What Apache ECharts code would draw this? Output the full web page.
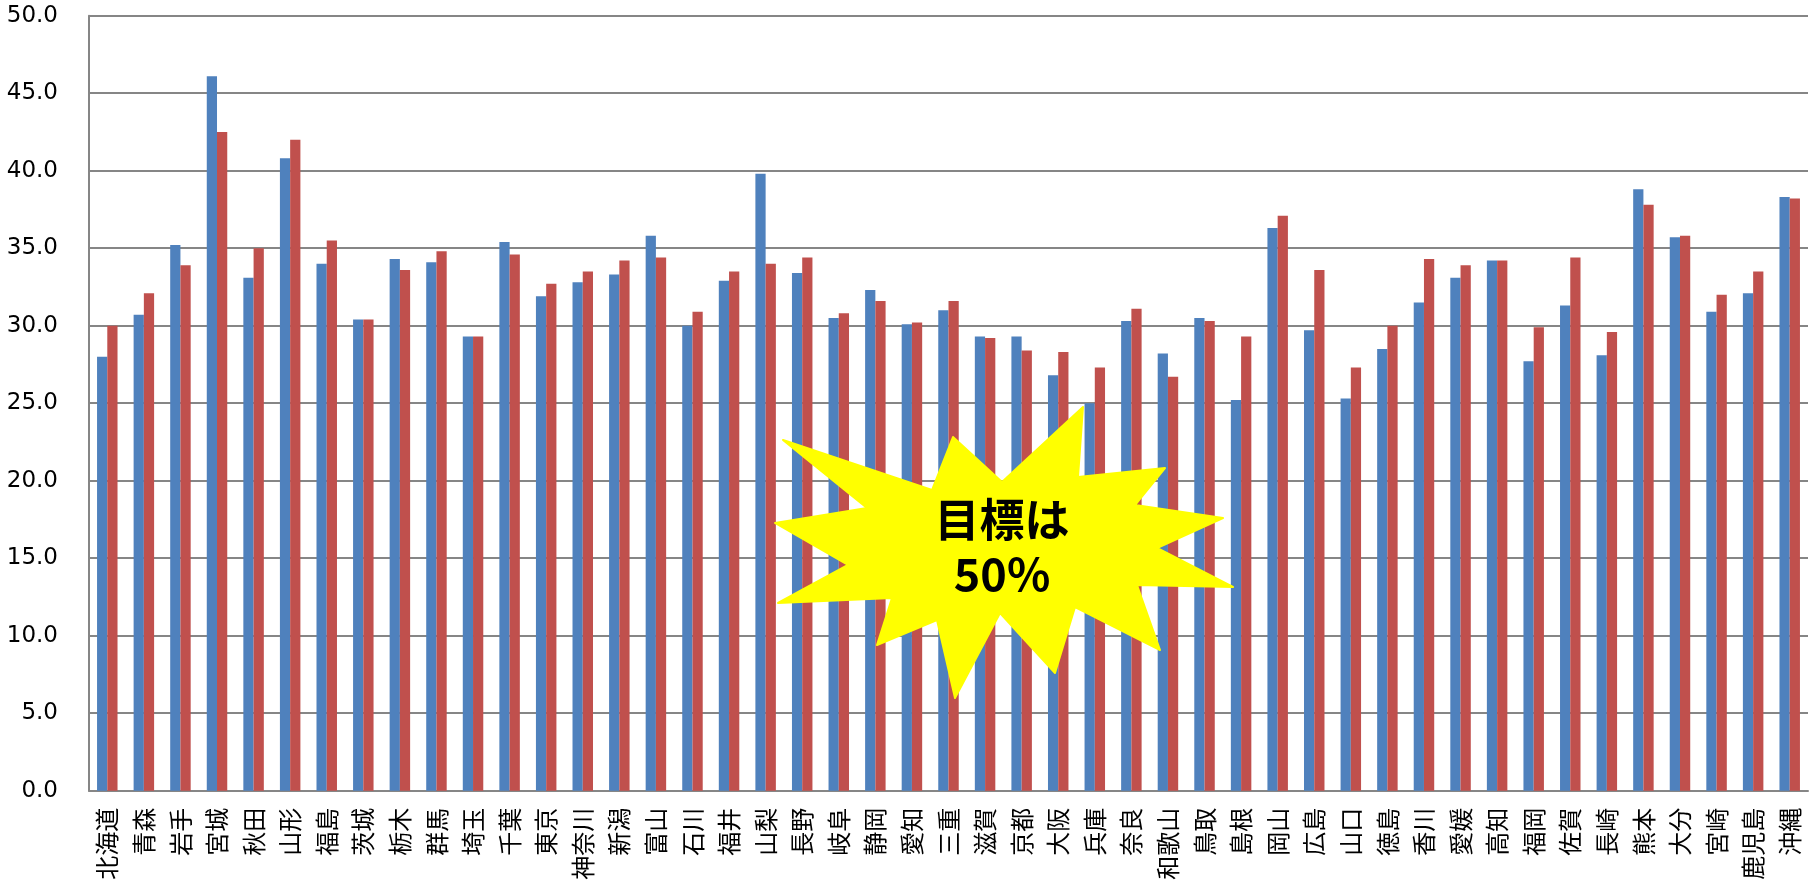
<!DOCTYPE html>
<html>
<head>
<meta charset="utf-8">
<script src="https://cdn.jsdelivr.net/npm/echarts@6/dist/echarts.min.js"></script>
<style>
html,body{margin:0;padding:0;background:#fff;}
#chart{width:1818px;height:885px;}
</style>
</head>
<body>
<div id="chart"></div>
<script>
const prefectures = ["北海道","青森","岩手","宮城","秋田","山形","福島","茨城","栃木","群馬","埼玉","千葉","東京","神奈川","新潟","富山","石川","福井","山梨","長野","岐阜","静岡","愛知","三重","滋賀","京都","大阪","兵庫","奈良","和歌山","鳥取","島根","岡山","広島","山口","徳島","香川","愛媛","高知","福岡","佐賀","長崎","熊本","大分","宮崎","鹿児島","沖縄"];
const seriesBlue = [28.0,30.7,35.2,46.1,33.1,40.8,34.0,30.4,34.3,34.1,29.3,35.4,31.9,32.8,33.3,35.8,30.0,32.9,39.8,33.4,30.5,32.3,30.1,31.0,29.3,29.3,26.8,25.0,30.3,28.2,30.5,25.2,36.3,29.7,25.3,28.5,31.5,33.1,34.2,27.7,31.3,28.1,38.8,35.7,30.9,32.1,38.3];
const seriesRed  = [30.0,32.1,33.9,42.5,35.0,42.0,35.5,30.4,33.6,34.8,29.3,34.6,32.7,33.5,34.2,34.4,30.9,33.5,34.0,34.4,30.8,31.6,30.2,31.6,29.2,28.4,28.3,27.3,31.1,26.7,30.3,29.3,37.1,33.6,27.3,30.0,34.3,33.9,34.2,29.9,34.4,29.6,37.8,35.8,32.0,33.5,38.2];
const yTicks = {min:0, max:50, interval:5};
const calloutText = "目標は\n50%";

const starPoints = [
  [783,440],[932,490],[953,437],[1002,482],[1083,407],[1078,477],
  [1165,468],[1135,505],[1223,518],[1157,548],[1233,587],[1137,585],
  [1160,650],[1075,607],[1055,673],[1000,613],[955,698],[937,620],
  [877,645],[892,598],[778,603],[848,565],[775,523],[867,508]
];

const chart = echarts.init(document.getElementById('chart'), null, {renderer:'canvas'});
chart.setOption({
  animation:false,
  backgroundColor:'#ffffff',
  grid:{left:89,right:10,top:15.7,bottom:94.3,containLabel:false},
  xAxis:{
    type:'category',
    data:prefectures,
    axisLine:{show:true,lineStyle:{color:'#868686',width:2}},
    axisTick:{show:false},
    axisLabel:{interval:0,rotate:90,margin:17,fontSize:24,color:'#000',fontFamily:'"Noto Sans CJK JP", sans-serif'},
    splitLine:{show:false}
  },
  yAxis:{
    type:'value',
    min:yTicks.min,max:yTicks.max,interval:yTicks.interval,
    axisLine:{show:true,lineStyle:{color:'#868686',width:2}},
    axisTick:{show:false},
    axisLabel:{margin:31,fontSize:23,color:'#000',fontFamily:'"DejaVu Sans", sans-serif',formatter:v=>v.toFixed(1)},
    splitLine:{show:true,lineStyle:{color:'#868686',width:2}}
  },
  series:[
    {name:'系列1',type:'bar',data:seriesBlue,barGap:'0%',barCategoryGap:'44%',itemStyle:{color:'#4F81BD'}},
    {name:'系列2',type:'bar',data:seriesRed,barGap:'0%',barCategoryGap:'44%',itemStyle:{color:'#C0504D'}}
  ],
  graphic:[
    {type:'polygon',z:100,shape:{points:starPoints},style:{fill:'#FFFF00',stroke:'#FFFF00',lineWidth:2,lineJoin:'round'}},
    {type:'text',z:101,x:1002,y:547,style:{text:calloutText,fill:'#000',font:'bold 45px "Noto Sans CJK JP", sans-serif',lineHeight:54,align:'center',verticalAlign:'middle'}}
  ]
});
</script>
</body>
</html>
